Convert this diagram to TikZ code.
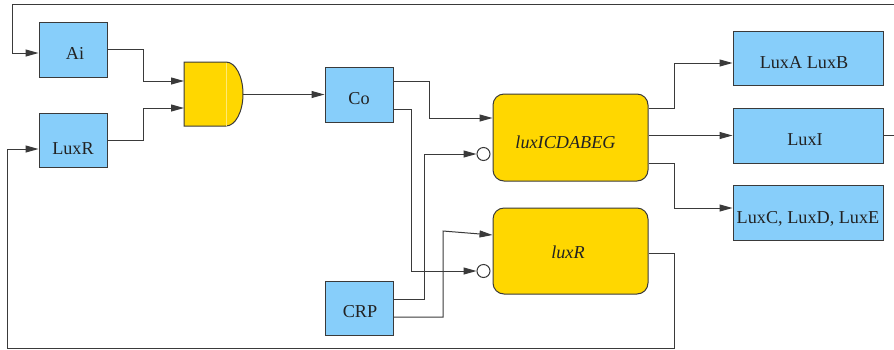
\documentclass[tikz,border=0pt]{standalone}
\usepackage{fontspec}
\setmainfont{Liberation Serif}
\usetikzlibrary{arrows.meta,calc}
\definecolor{boxblue}{HTML}{87CEFA}
\definecolor{boxgold}{HTML}{FFD700}
\definecolor{edge}{HTML}{3A3A3A}
\definecolor{txt}{HTML}{222222}
\begin{document}
\begin{tikzpicture}[x=1pt,y=-1pt,
  every node/.style={inner sep=0pt},
  lbl/.style={anchor=base, text=txt, font=\fontsize{18.2}{21}\selectfont},
  ilbl/.style={lbl, font=\fontsize{18.2}{21}\selectfont\itshape},
  bluebox/.style={draw=edge, line width=1pt, fill=boxblue, minimum width=68pt, minimum height=55pt},
  widebox/.style={bluebox, minimum width=150pt},
  procbox/.style={draw=edge, line width=1pt, fill=boxgold, rounded corners=11pt, minimum width=155pt, minimum height=87pt},
  invcirc/.style={circle, draw=edge, line width=1pt, fill=white, minimum size=13pt},
  wire/.style={draw=edge, line width=1pt},
  arr/.style={wire, -{Triangle[length=13pt,width=7pt]}}
]
\useasboundingbox (0,0) rectangle (894,349);
\clip (0,0) rectangle (894,349);

% boxes
\node[bluebox] (Ai) at (73,49.5) {};
\node[bluebox, minimum height=54pt] (LuxR) at (73,140) {};
\node[bluebox] (Co) at (359,94.5) {};
\node[bluebox, minimum height=54pt] (CRP) at (359,308) {};
\node[procbox] (ICD) at (570.5,137.5) {};
\node[procbox, minimum height=86pt] (lR) at (570.5,251) {};
\node[widebox, minimum height=54pt] (LAB) at (808,58) {};
\node[widebox] (LI) at (808,135.5) {};
\node[widebox] (LCDE) at (808,212.5) {};
\node[invcirc] (inv1) at (483.5,154) {};
\node[invcirc] (inv2) at (483.5,271) {};

% texts
\node[lbl] (Ai-t) at (75,59) {Ai};
\node[lbl] (LuxR-t) at (73,154) {LuxR};
\node[lbl] (Co-t) at (359,104) {Co};
\node[lbl] (CRP-t) at (360,317) {CRP};
\node[ilbl] (ICD-t) at (565.5,148) {luxICDABEG};
\node[ilbl] (lR-t) at (568,258) {luxR};
\node[lbl] (LAB-t) at (804,68) {LuxA LuxB};
\node[lbl] (LI-t) at (805,145) {LuxI};
\node[lbl] (LCDE-t) at (808,223) {LuxC, LuxD, LuxE};

% AND gate
\path[fill=boxgold, draw=edge, line width=1pt]
  (184,62) -- (226,62) arc[start angle=90, end angle=-90, x radius=17pt, y radius=32pt]
  -- (184,126) -- cycle;
\draw[boxgold!55!white, line width=0.8pt] (226,62.5) -- (226,125.5);
\coordinate (gin1) at (184,81);
\coordinate (gin2) at (184,108);
\coordinate (gout) at (243,94.5);

% connectors
\draw[arr] (Ai.east) -| (143,81) -- (gin1);
\draw[arr] (LuxR.east) -| (143,108) -- (gin2);
\draw[arr] (gout) -- (Co.west);
\draw[arr] (Co.east |- 0,81) -| (429,118) -- (ICD.west |- 0,118);
\draw[arr] (Co.east |- 0,109) -| (411,271) -- (inv2.west);
\draw[arr] (CRP.east |- 0,299) -| (424,154) -- (inv1.west);
\draw[arr] (CRP.east |- 0,317) -| (443,231) -- (lR.west |- 0,235);
\draw[arr] (ICD.east |- 0,108) -| (674,63) -- (LAB.west |- 0,63);
\draw[arr] (ICD.east |- 0,135.5) -- (LI.west);
\draw[arr] (ICD.east |- 0,163) -| (674,208) -- (LCDE.west |- 0,208);
\draw[arr] (LI.east) -- (900,135.5) |- (12,4) -- (12,53) -- (Ai.west |- 0,53);
\draw[arr] (lR.east |- 0,253) -| (674,348) -| (7,149) -- (LuxR.west |- 0,149);
\end{tikzpicture}
\end{document}
